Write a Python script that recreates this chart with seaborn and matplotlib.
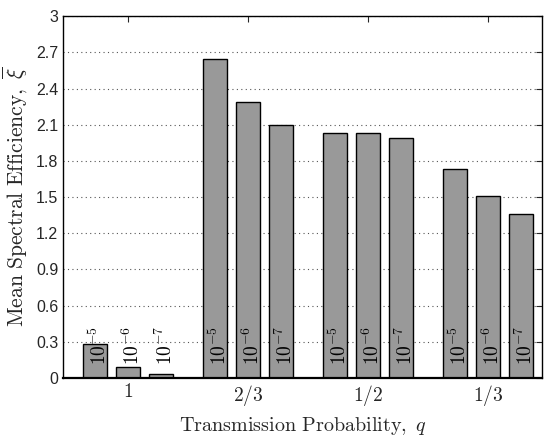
import matplotlib
matplotlib.use("Agg")
import matplotlib.pyplot as plt
import pandas as pd
import numpy as np
import seaborn as sns

# transmission probability groups and error-threshold series
q_labels = ['1', '2/3', '1/2', '1/3']
thresholds = ['10^{-5}', '10^{-6}', '10^{-7}']
eff_1e5 = [0.28, 2.646, 2.035, 1.735]
eff_1e6 = [0.093, 2.292, 2.035, 1.508]
eff_1e7 = [0.033, 2.10, 1.986, 1.359]
y_ticks = [0, 0.3, 0.6, 0.9, 1.2, 1.5, 1.8, 2.1, 2.4, 2.7, 3]

rows = []
for thr, vals in zip(thresholds, [eff_1e5, eff_1e6, eff_1e7]):
    for q, v in zip(q_labels, vals):
        rows.append({'q': q, 'thr': thr, 'eff': v})
df = pd.DataFrame(rows)

sns.set_style('white')
plt.rcParams['mathtext.fontset'] = 'cm'
plt.rcParams['font.family'] = ['Liberation Sans', 'DejaVu Sans']

fig = plt.figure(figsize=(5.45, 4.36), dpi=100)
ax = fig.add_axes([0.1156, 0.133, 0.879, 0.830])

sns.barplot(data=df, x='q', y='eff', hue='thr', order=q_labels, hue_order=thresholds,
            palette=['#999999'] * 3, width=0.825, gap=0.27, edgecolor='black',
            linewidth=1.0, saturation=1, legend=False, ax=ax)

# rotated threshold labels inside each bar ("10" centred on the bar)
for bar, (_, r) in zip(ax.patches, df.iterrows()):
    cx = bar.get_x() + bar.get_width() / 2 + 0.035
    ax.text(cx, 0.105, r'$' + r['thr'] + '$', rotation=90, ha='center', va='bottom',
            fontsize=14, color='black')

ax.set_xlim(-0.54, 3.45)
ax.set_ylim(0, 3)
ax.set_yticks(y_ticks)
ax.set_yticklabels([f'{t:g}' for t in y_ticks], fontsize=11.5)
ax.set_xticks(range(len(q_labels)))
ax.set_xticklabels(['$' + q + '$' for q in q_labels], fontsize=14)
ax.yaxis.grid(True, linestyle=(0, (1, 3)), color='#555555', linewidth=0.8)
ax.set_axisbelow(True)
ax.tick_params(direction='in', length=4, top=True, right=True, width=0.8)
for s in ax.spines.values():
    s.set_color('black')
    s.set_linewidth(1.0)
ax.spines['bottom'].set_linewidth(1.6)

ax.set_xlabel(r'$\mathrm{Transmission\ Probability,}\ q$', fontsize=14.5, labelpad=5)
ax.set_ylabel(r'$\mathrm{Mean\ Spectral\ Efficiency,}\ \overline{\xi}$', fontsize=15.5, labelpad=4)

fig.savefig('out.png', dpi=100)
